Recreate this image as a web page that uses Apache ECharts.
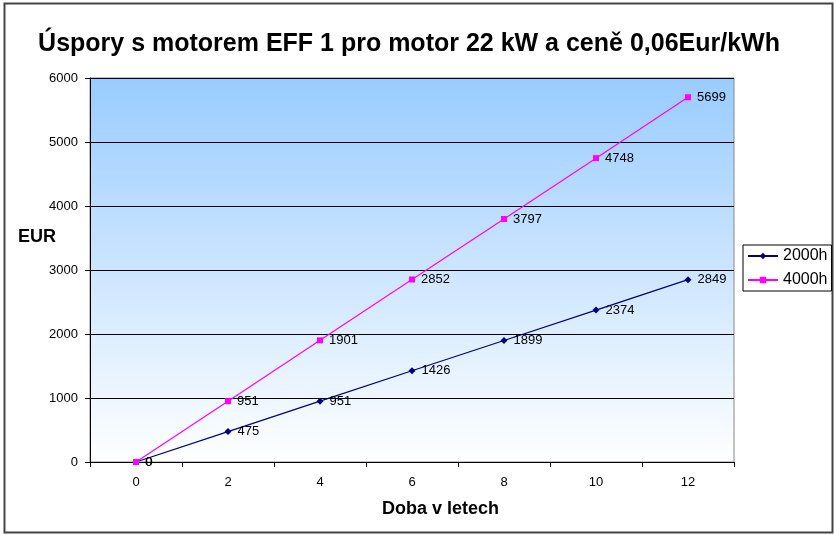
<!DOCTYPE html>
<html lang="cs">
  <head>
    <meta charset="UTF-8" />
    <title>Úspory EFF 1</title>
    <script src="https://cdn.jsdelivr.net/npm/echarts@6/dist/echarts.min.js"></script>
    <style>
      html, body { margin: 0; padding: 0; background: #fff; }
    </style>
  </head>
  <body>
    <div id="main" style="width: 834px; height: 535px"></div>
    <script type="text/javascript">
      // years on the x axis
      const years = ["0", "2", "4", "6", "8", "10", "12"];
      // savings in EUR
      const savings2000h = [0, 475, 951, 1426, 1899, 2374, 2849];
      const savings4000h = [0, 951, 1901, 2852, 3797, 4748, 5699];

      const font = "'Liberation Sans', Arial, sans-serif";

      let myChart = echarts.init(document.getElementById("main"));

      let options = {
        animation: false,
        textStyle: { fontFamily: font },
        title: {
          text: "Úspory s motorem EFF 1 pro motor 22 kW a ceně 0,06Eur/kWh",
          left: 404,
          top: 27,
          textAlign: "center",
          textStyle: { fontSize: 25, fontWeight: "bold", color: "#000", fontFamily: font },
        },
        legend: {
          orient: "vertical",
          left: 743,
          top: 245,
          itemWidth: 30,
          itemHeight: 8,
          itemGap: 8,
          padding: [3, 4, 3, 4],
          borderColor: "#000",
          borderWidth: 1,
          textStyle: { fontSize: 16, color: "#000", fontFamily: font },
          data: ["2000h", "4000h"],
        },
        grid: {
          left: 90,
          top: 78,
          width: 644,
          height: 384,
          show: true,
          borderColor: "#888",
          borderWidth: 1,
          backgroundColor: {
            type: "linear", x: 0, y: 0, x2: 0, y2: 1,
            colorStops: [
              { offset: 0, color: "#99CCFF" },
              { offset: 1, color: "#FFFFFF" },
            ],
          },
        },
        xAxis: {
          type: "category",
          data: years,
          boundaryGap: true,
          axisLine: { lineStyle: { color: "#000" } },
          axisTick: { show: true, length: 5, lineStyle: { color: "#000" } },
          axisLabel: { fontSize: 13, color: "#000", margin: 14 },
        },
        yAxis: {
          type: "value",
          min: 0,
          max: 6000,
          interval: 1000,
          axisLine: { show: true, lineStyle: { color: "#000" } },
          axisTick: { show: true, length: 5, lineStyle: { color: "#000" } },
          axisLabel: { fontSize: 13, color: "#000", margin: 12, formatter: (v) => String(v) },
          splitLine: { lineStyle: { color: "#000", width: 1 } },
        },
        series: [
          {
            name: "2000h",
            type: "line",
            data: savings2000h,
            color: "#000080",
            symbol: "diamond",
            symbolSize: 7,
            lineStyle: { width: 1.2, color: "#000080" },
            itemStyle: { color: "#000080" },
            label: { show: true, position: "right", distance: 6, fontSize: 13, color: "#000" },
          },
          {
            name: "4000h",
            type: "line",
            data: savings4000h,
            color: "#FF00FF",
            symbol: "rect",
            symbolSize: 6,
            lineStyle: { width: 1.2, color: "#FF00FF" },
            itemStyle: { color: "#FF00FF" },
            label: { show: true, position: "right", distance: 6, fontSize: 13, color: "#000" },
          },
        ],
        graphic: [
          {
            type: "rect",
            shape: { x: 4.5, y: 3.5, width: 828, height: 529 },
            style: { fill: "none", stroke: "#444", lineWidth: 2 },
            silent: true,
          },
          {
            // y axis name
            type: "text",
            left: 18,
            top: 228,
            style: { text: "EUR", fontSize: 18, fontWeight: "bold", fill: "#000", fontFamily: font },
          },
          {
            // x axis name
            type: "text",
            left: 382,
            top: 500,
            style: { text: "Doba v letech", fontSize: 18, fontWeight: "bold", fill: "#000", fontFamily: font },
          },
        ],
      };

      myChart.setOption(options);
    </script>
  </body>
</html>
